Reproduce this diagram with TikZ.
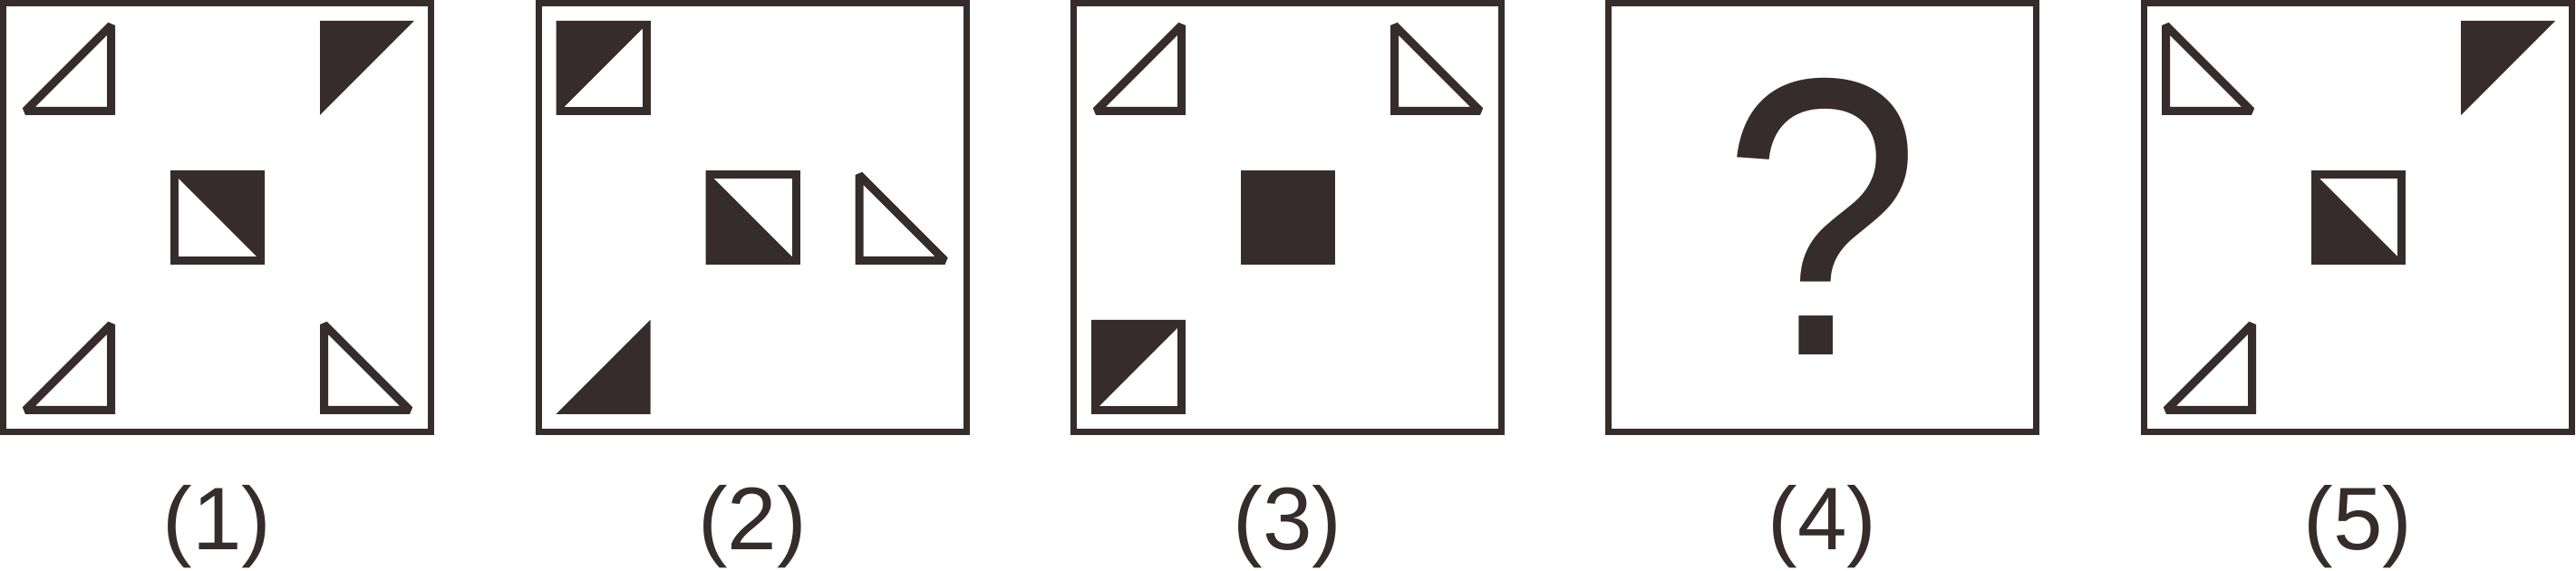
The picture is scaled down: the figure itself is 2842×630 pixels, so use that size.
\documentclass[tikz,border=0pt]{standalone}
\usepackage{fontspec}
\setmainfont{Liberation Sans}
\definecolor{ink}{RGB}{53,44,43}
\tikzset{
  frm/.style={draw=ink,line width=0.7mm},
  ol/.style={draw=ink,line width=0.9mm,line join=miter,miter limit=2},
  blk/.style={fill=ink},
  lbl/.style={text=ink,anchor=base,inner sep=0pt,font=\fontsize{27.9pt}{30pt}\selectfont},
  qmark/.style={text=ink,anchor=base,inner sep=0pt,xscale=0.946,yscale=1.048,transform shape,font=\fontsize{118.7pt}{120pt}\selectfont},
  triBR/.pic={\draw[ol] (99.5,5) -- (99.5,99.5) -- (5,99.5) -- cycle;},
  triBL/.pic={\draw[ol] (4.5,5) -- (4.5,99.5) -- (99,99.5) -- cycle;},
  ftriTL/.pic={\fill[blk] (0,0) -- (104,0) -- (0,104) -- cycle;},
  ftriBR/.pic={\fill[blk] (104,0) -- (104,104) -- (0,104) -- cycle;},
  sqUR/.pic={\fill[blk] (0,0) -- (104,0) -- (104,104) -- cycle; \draw[ol] (4.5,4.5) rectangle (99.5,99.5);},
  sqUL/.pic={\fill[blk] (0,0) -- (104,0) -- (0,104) -- cycle; \draw[ol] (4.5,4.5) rectangle (99.5,99.5);},
  sqLL/.pic={\fill[blk] (0,0) -- (0,104) -- (104,104) -- cycle; \draw[ol] (4.5,4.5) rectangle (99.5,99.5);},
  sqF/.pic={\fill[blk] (0,0) rectangle (104,104);}
}
\begin{document}
\begin{tikzpicture}[x=0.1mm,y=-0.1mm]
\useasboundingbox (0,0) rectangle (2842,630);
% frames
\foreach \px in {0,590.5,1181,1771,2362}{
  \draw[frm] (\px+3.5,3.5) rectangle (\px+475.5,476.5);
}
% panel 1
\pic at (23,23) {triBR};
\pic at (353,23) {ftriTL};
\pic at (188,188) {sqUR};
\pic at (23,353) {triBR};
\pic at (353,353) {triBL};
% panel 2
\pic at (613.5,23) {sqUL};
\pic at (778.5,188) {sqLL};
\pic at (943.5,188) {triBL};
\pic at (613.5,353) {ftriBR};
% panel 3
\pic at (1204,23) {triBR};
\pic at (1534,23) {triBL};
\pic at (1369,188) {sqF};
\pic at (1204,353) {sqUL};
% panel 4
\node[qmark] (q) at (2010.5,392) {?};
% panel 5
\pic at (2385,23) {triBL};
\pic at (2715,23) {ftriTL};
\pic at (2550,188) {sqLL};
\pic at (2385,353) {triBR};
% labels
\node[lbl] (l1) at (239.5,607) {(1)};
\node[lbl] (l2) at (830,607) {(2)};
\node[lbl] (l3) at (1420.5,607) {(3)};
\node[lbl] (l4) at (2010.5,607) {(4)};
\node[lbl] (l5) at (2601.5,607) {(5)};
\end{tikzpicture}
\end{document}
